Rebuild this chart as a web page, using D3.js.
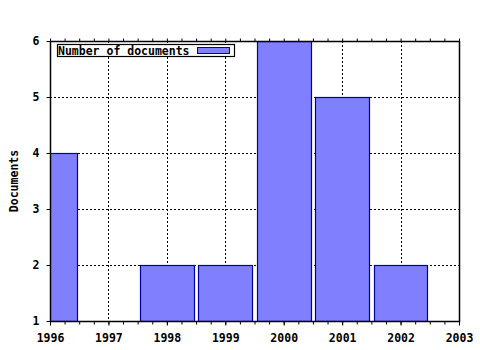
<!DOCTYPE html>
<html>
<head>
<meta charset="utf-8">
<script src="https://cdn.jsdelivr.net/npm/d3@7"></script>
<style>
  body { margin: 0; background: #fff; }
  svg text { font-family: "DejaVu Sans Mono", monospace; font-weight: bold; font-size: 11.5px; fill: #000; }
</style>
</head>
<body>
<svg id="chart" width="480" height="350"></svg>
<script>
// Data
const years = [1996, 1998, 1999, 2000, 2001, 2002];
const counts = [4, 2, 2, 6, 5, 2];
const xTicks = [1996, 1997, 1998, 1999, 2000, 2001, 2002, 2003];
const yTicks = [1, 2, 3, 4, 5, 6];
const seriesName = "Number of documents";

const plotLeft = 50, plotRight = 459, plotTop = 41, plotBottom = 321;

const x = d3.scaleLinear().domain([1996, 2003]).range([plotLeft, plotRight]);
const y = d3.scaleLinear().domain([1, 6]).range([plotBottom, plotTop]);

const svg = d3.select("#chart");

svg.append("defs").append("clipPath").attr("id", "plot")
    .append("rect")
    .attr("x", plotLeft).attr("y", plotTop)
    .attr("width", plotRight - plotLeft).attr("height", plotBottom - plotTop);

// grid
const grid = svg.append("g")
    .attr("stroke", "#000")
    .attr("stroke-width", 1)
    .attr("stroke-dasharray", "2,2")
    .attr("shape-rendering", "crispEdges");
grid.selectAll("line.v")
    .data(xTicks.slice(1, -1))
    .enter().append("line")
    .attr("x1", d => Math.round(x(d)) + 0.5).attr("x2", d => Math.round(x(d)) + 0.5)
    .attr("y1", plotTop).attr("y2", plotBottom);
grid.selectAll("line.h")
    .data(yTicks.slice(1, -1))
    .enter().append("line")
    .attr("x1", plotLeft).attr("x2", plotRight)
    .attr("y1", d => Math.round(y(d)) + 0.5).attr("y2", d => Math.round(y(d)) + 0.5);

// bars
const halfWidth = 0.46;
svg.append("g")
    .attr("clip-path", "url(#plot)")
    .selectAll("rect")
    .data(years.map((yr, i) => ({year: yr, value: counts[i]})))
    .enter().append("rect")
    .attr("x", d => Math.round(x(d.year - halfWidth)) + 0.5)
    .attr("width", d => Math.round(x(d.year + halfWidth)) - Math.round(x(d.year - halfWidth)))
    .attr("y", d => Math.round(y(d.value)) + 0.5)
    .attr("height", d => Math.round(y(1)) - Math.round(y(d.value)))
    .attr("fill", "#8080ff")
    .attr("stroke", "#0000a0")
    .attr("stroke-width", 1.2);

// axes
const minorTicks = d3.range(1996, 2003.001, 0.25);

const bottomAxis = svg.append("g")
    .attr("transform", `translate(0,${plotBottom + 0.5})`)
    .call(d3.axisBottom(x).tickValues(xTicks).tickFormat(d3.format("d")).tickSize(4).tickPadding(8));
bottomAxis.selectAll("text").attr("font-size", null).attr("font-family", null);

svg.append("g")
    .attr("transform", `translate(0,${plotBottom + 0.5})`)
    .call(d3.axisBottom(x).tickValues(minorTicks).tickFormat("").tickSize(3))
    .select(".domain").remove();

const topAxis = svg.append("g")
    .attr("transform", `translate(0,${plotTop + 0.5})`)
    .call(d3.axisTop(x).tickValues(minorTicks).tickFormat("").tickSize(3));

const leftAxis = svg.append("g")
    .attr("transform", `translate(${plotLeft + 0.5},0)`)
    .call(d3.axisLeft(y).tickValues(yTicks).tickFormat(d3.format("d")).tickSize(4).tickPadding(7));
leftAxis.selectAll("text").attr("font-size", null).attr("font-family", null);

// plain domains without end caps
bottomAxis.select(".domain").attr("d", `M${plotLeft},0H${plotRight + 1}`).attr("stroke-width", 1.5);
topAxis.select(".domain").attr("d", `M${plotLeft},0H${plotRight + 1}`).attr("stroke-width", 1.5);
leftAxis.select(".domain").attr("d", `M0,${plotTop}V${plotBottom + 1}`).attr("stroke-width", 1.5);

svg.append("line")
    .attr("x1", plotRight + 0.5).attr("x2", plotRight + 0.5)
    .attr("y1", plotTop).attr("y2", plotBottom + 1)
    .attr("stroke", "#000").attr("stroke-width", 1.5);

// y label
svg.append("text")
    .attr("transform", `translate(18,${(plotTop + plotBottom) / 2}) rotate(-90)`)
    .attr("text-anchor", "middle")
    .text("Documents");

// legend
const legend = svg.append("g");
legend.append("rect")
    .attr("x", 57.5).attr("y", 44.5)
    .attr("width", 177).attr("height", 12)
    .attr("fill", "#fff").attr("stroke", "#000").attr("stroke-width", 1.2);
legend.append("text")
    .attr("x", 58).attr("y", 54.5)
    .text(seriesName);
legend.append("rect")
    .attr("x", 197.5).attr("y", 47.5)
    .attr("width", 32).attr("height", 6)
    .attr("fill", "#8080ff").attr("stroke", "#0000a0");
</script>
</body>
</html>
